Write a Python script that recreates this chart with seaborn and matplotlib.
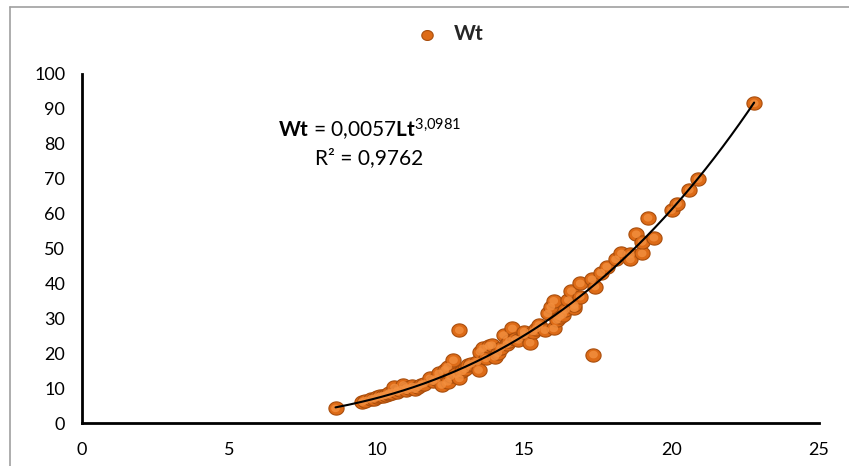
import numpy as np
import pandas as pd
import matplotlib
matplotlib.use("Agg")
import matplotlib.pyplot as plt
from matplotlib.lines import Line2D
import seaborn as sns

# ---- data ----
length_lt = [8.6, 9.5, 9.6, 9.8, 9.9, 10.0, 10.1, 10.2, 10.3, 10.4, 10.4, 10.5, 10.6, 10.7,
             10.7, 10.8, 10.9, 11.0, 11.0, 11.1, 11.2, 11.3, 11.4, 11.5, 11.6, 11.8, 11.9,
             12.0, 12.1, 12.2, 12.3, 12.4, 12.4, 12.5, 12.6, 12.7, 12.8, 12.8, 12.9, 13.0,
             13.1, 13.2, 13.4, 13.45, 13.5, 13.6, 13.7, 13.8, 13.9, 14.0, 14.1, 14.2, 14.3,
             14.4, 14.5, 14.6, 14.7, 14.8, 15.0, 15.0, 15.2, 15.3, 15.4, 15.5, 15.7, 15.8,
             15.9, 16.0, 16.0, 16.1, 16.2, 16.3, 16.4, 16.5, 16.6, 16.7, 16.7, 16.9, 16.9,
             17.3, 17.35, 17.4, 17.6, 17.8, 18.1, 18.3, 18.6, 18.6, 18.8, 19.0, 19.0, 19.2,
             19.4, 20.0, 20.2, 20.6, 20.9, 22.8]
weight_wt = [4.2, 6.0, 6.4, 6.9, 7.0, 7.4, 7.6, 7.8, 8.0, 8.3, 8.6, 8.7, 10.2, 9.2,
             9.0, 9.5, 10.9, 10.0, 9.4, 9.9, 10.5, 9.7, 10.4, 11.0, 11.3, 12.8, 12.0,
             12.6, 14.2, 10.9, 15.2, 11.8, 16.1, 13.4, 18.0, 14.0, 12.8, 26.6, 14.8, 15.5,
             16.6, 17.0, 17.6, 15.2, 20.4, 21.4, 18.5, 22.1, 22.3, 19.0, 20.0, 21.5, 25.2,
             22.5, 23.5, 27.1, 24.0, 23.8, 25.2, 26.2, 23.0, 26.2, 27.0, 28.1, 26.6, 31.4,
             33.3, 35.0, 27.1, 29.5, 30.5, 31.0, 32.4, 35.2, 37.8, 32.9, 33.8, 36.2, 40.0,
             41.2, 19.6, 39.1, 43.1, 44.8, 46.9, 48.6, 48.3, 46.9, 54.1, 48.6, 51.9, 58.8,
             53.1, 61.0, 62.8, 66.8, 69.9, 91.6]

# power trendline coefficients shown in the chart
coef_a = 0.0057
coef_b = 3.0981
r_squared_text = "R² = 0,9762"
x_ticks = [0, 5, 10, 15, 20, 25]
y_ticks = [0, 10, 20, 30, 40, 50, 60, 70, 80, 90, 100]

df = pd.DataFrame({"Lt": length_lt, "Wt": weight_wt})
xs = np.linspace(min(length_lt), max(length_lt), 200)
trend = pd.DataFrame({"Lt": xs, "Wt": coef_a * xs ** coef_b})

sns.set_theme(style="white")
plt.rcParams["font.family"] = ["Lato", "DejaVu Sans"]
plt.rcParams["mathtext.fontset"] = "custom"
plt.rcParams["mathtext.rm"] = "Lato"
plt.rcParams["mathtext.bf"] = "Lato:bold"
plt.rcParams["mathtext.it"] = "Lato:italic"

fig = plt.figure(figsize=(8.49, 4.66), dpi=100)
ax = fig.add_axes([82 / 849, 1 - 423 / 466, (819 - 82) / 849, (423 - 74) / 466])

# slightly flattened sphere-like marker
theta = np.linspace(0, 2 * np.pi, 40)
ellipse = np.column_stack([1.15 * np.cos(theta), np.sin(theta)])

sns.scatterplot(data=df, x="Lt", y="Wt", ax=ax, s=120, color="#DD6B17", marker=ellipse,
                edgecolor="#A84D0C", linewidth=0.8, zorder=3, label="Wt")
sns.scatterplot(data=df, x="Lt", y="Wt", ax=ax, s=40, color="#F39040", marker=ellipse,
                edgecolor="none", linewidth=0, zorder=3, alpha=0.8, legend=False)
sns.lineplot(data=trend, x="Lt", y="Wt", ax=ax, color="black", linewidth=1.5,
             zorder=4, legend=False)

ax.set_xlim(0, 25)
ax.set_ylim(0, 100)
ax.set_xticks(x_ticks)
ax.set_yticks(y_ticks)
ax.set_xlabel("")
ax.set_ylabel("")
for side in ["top", "right"]:
    ax.spines[side].set_visible(False)
for side in ["left", "bottom"]:
    ax.spines[side].set_color("black")
    ax.spines[side].set_linewidth(2)
ax.tick_params(axis="both", direction="out", length=6, width=1.8, color="black",
               labelsize=13, labelcolor="black", pad=6)
ax.tick_params(axis="x", pad=8)

# equation annotation
ax.text(9.75, 84, r"$\mathbf{Wt}$ = 0,0057$\mathbf{Lt}^{3{,}0981}$", ha="center",
        va="center", fontsize=15, color="black")
ax.text(9.75, 76, r_squared_text, ha="center", va="center", fontsize=15, color="black")

# legend on top
handles, labels = ax.get_legend_handles_labels()
leg = ax.legend(handles[:1], labels[:1], loc="center", bbox_to_anchor=(445 / 849, 1 - 34 / 466),
                bbox_transform=fig.transFigure, frameon=False, handletextpad=0.3,
                prop={"weight": "bold", "size": 15}, markerscale=0.75)

# light frame at left and top like the source chart area
fig.add_artist(Line2D([10 / 849, 10 / 849], [0, 1 - 7 / 466], color="#a0a0a0", linewidth=1.2,
                      transform=fig.transFigure))
fig.add_artist(Line2D([10 / 849, 1], [1 - 7 / 466, 1 - 7 / 466], color="#a0a0a0", linewidth=1.2,
                      transform=fig.transFigure))

fig.savefig("out.png", dpi=100, facecolor="white")
